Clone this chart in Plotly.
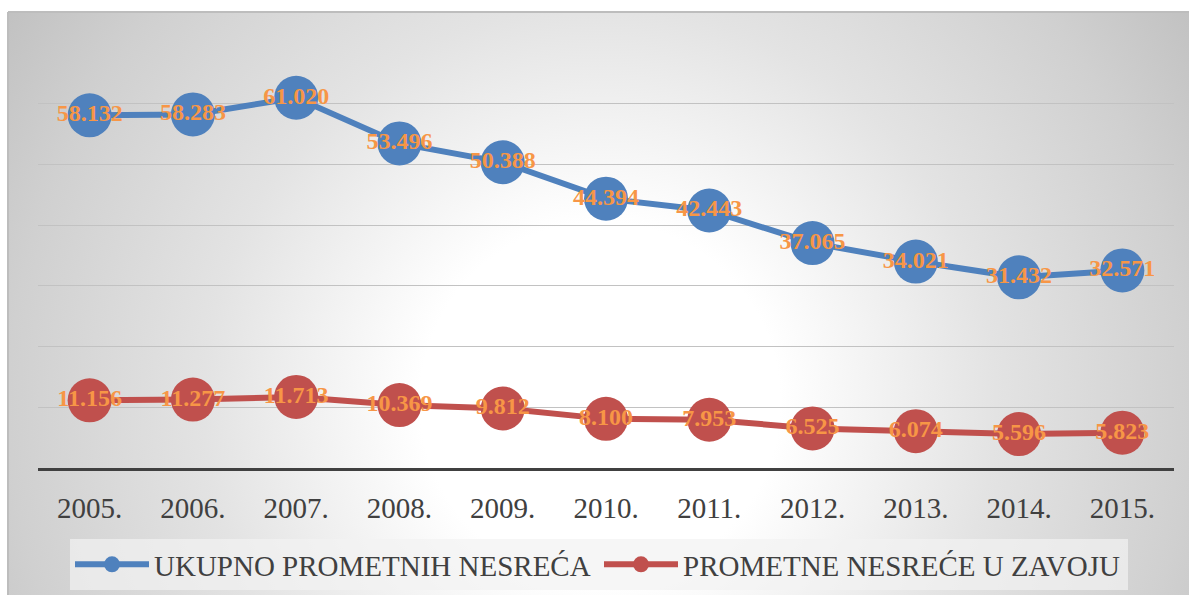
import base64

import plotly.graph_objects as go

years = ["2005.", "2006.", "2007.", "2008.", "2009.", "2010.",
         "2011.", "2012.", "2013.", "2014.", "2015."]
ukupno = [58132, 58283, 61020, 53496, 50388, 44394, 42443, 37065, 34021, 31432, 32571]
zavoj = [11156, 11277, 11713, 10369, 9812, 8100, 7953, 6525, 6074, 5596, 5823]
series_names = ["UKUPNO PROMETNIH NESREĆA", "PROMETNE NESREĆE U ZAVOJU"]

SERIF = "Liberation Serif, Times New Roman, DejaVu Serif, serif"

W, H = 1189, 595
ML, MR, MT, MB = 38, 15, 43, 127
PW, PH = W - ML - MR, H - MT - MB


def px_x(p):
    return (p - ML) / PW


def px_y(p):
    return (H - MB - p) / PH


# radial grey-white background of the chart box (Excel style)
box_x0, box_y0 = 8, 12
bw, bh = W - box_x0 + 4, H - box_y0 + 4
svg = f"""<svg xmlns='http://www.w3.org/2000/svg' width='{bw}' height='{bh}'>
<defs><radialGradient id='g' gradientUnits='userSpaceOnUse' cx='592' cy='390' r='720'>
<stop offset='0' stop-color='#ffffff'/>
<stop offset='0.25' stop-color='#ffffff'/>
<stop offset='0.55' stop-color='#e3e3e3'/>
<stop offset='0.82' stop-color='#d0d0d0'/>
<stop offset='1' stop-color='#c0c0c0'/>
</radialGradient></defs>
<rect x='0' y='0' width='{bw}' height='{bh}' fill='url(#g)'/>
</svg>"""
bg_uri = "data:image/svg+xml;base64," + base64.b64encode(svg.encode()).decode()

fig = go.Figure()

for name, vals, color in [(series_names[0], ukupno, "#4f81bd"),
                          (series_names[1], zavoj, "#c0504d")]:
    fig.add_trace(go.Scatter(
        x=years, y=vals, name=name,
        mode="lines+markers+text",
        line=dict(color=color, width=6),
        marker=dict(color=color, size=44),
        texttemplate="%{y:,.0f}",
        textposition="middle center",
        textfont=dict(family=SERIF, size=24, color="#f79646", weight="bold"),
        hoverinfo="skip",
    ))

fig.add_layout_image(
    source=bg_uri, xref="paper", yref="paper",
    x=px_x(box_x0), y=px_y(box_y0),
    sizex=bw / PW, sizey=bh / PH,
    xanchor="left", yanchor="top", sizing="stretch", layer="below",
)
# top and left border of the chart box
fig.add_shape(type="line", xref="paper", yref="paper",
              x0=px_x(box_x0), x1=px_x(W + 5), y0=px_y(box_y0), y1=px_y(box_y0),
              line=dict(color="#bdbdbd", width=2), layer="below")
fig.add_shape(type="line", xref="paper", yref="paper",
              x0=px_x(box_x0), x1=px_x(box_x0), y0=px_y(box_y0), y1=px_y(H + 5),
              line=dict(color="#bdbdbd", width=2), layer="below")

fig.update_layout(
    width=W, height=H,
    margin=dict(l=ML, r=MR, t=MT, b=MB),
    paper_bgcolor="white",
    plot_bgcolor="rgba(0,0,0,0)",
    separators=",.",
    showlegend=True,
    legend=dict(
        orientation="h", xref="container", yref="container",
        x=70 / W, y=1 - 539 / H, xanchor="left", yanchor="top",
        bgcolor="rgba(242,242,242,0.7)", itemwidth=74, entrywidth=440,
        font=dict(family=SERIF, size=29, color="#404040"),
    ),
    xaxis=dict(
        type="category", range=[-0.5, 10.5], showgrid=False,
        showline=True, linecolor="#404040", linewidth=3,
        ticks="", ticklabelstandoff=12,
        tickfont=dict(family=SERIF, size=29, color="#404040"),
        fixedrange=True,
    ),
    yaxis=dict(
        range=[0, 70050], dtick=10000, showgrid=True, gridcolor="#c2c2c2", gridwidth=1.2,
        zeroline=False, showticklabels=False, fixedrange=True,
    ),
)

fig.write_html(
    "out.html",
    config={"displayModeBar": False},
    post_script="document.body.style.margin='0';document.body.style.padding='0';",
)
